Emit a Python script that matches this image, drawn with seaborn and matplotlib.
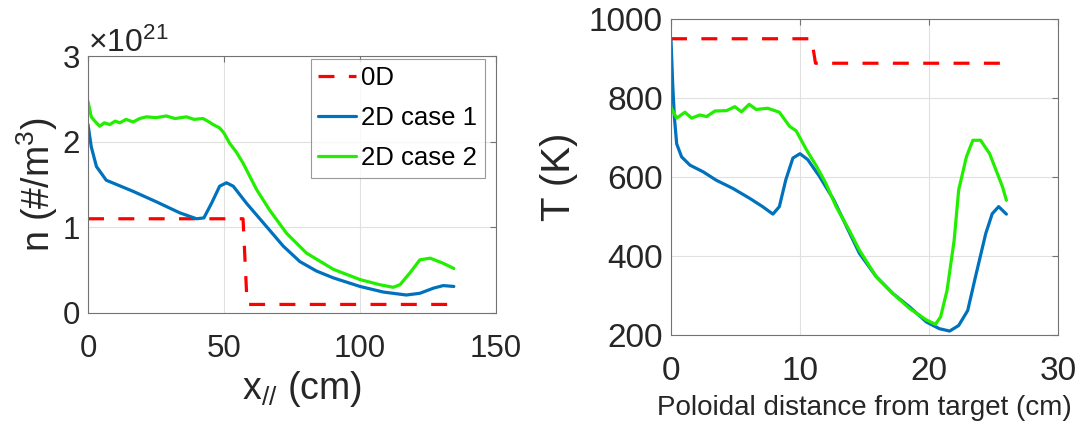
import numpy as np
import pandas as pd
import seaborn as sns
import matplotlib
matplotlib.use("Agg")
import matplotlib.pyplot as plt
from matplotlib.ticker import ScalarFormatter

# ---------------- data: left panel (density vs x_//) ----------------
n0d_x = [0, 57, 58.5, 134.5]
n0d_y = [1.1e21, 1.1e21, 0.1e21, 0.1e21]

n1_x = [0, 1.2, 3.1, 6.7, 16.6, 25, 33.7, 39.9, 42.6, 45.4, 48.4, 50.9, 53.4,
        58.3, 65.6, 71.8, 77.9, 84, 90.2, 100, 108.5, 117, 122, 127, 130.6, 134.5]
n1_y = [2.20, 1.94, 1.71, 1.55, 1.42, 1.30, 1.17, 1.10, 1.11, 1.28, 1.48, 1.52, 1.48,
        1.28, 1.01, 0.78, 0.60, 0.49, 0.41, 0.31, 0.245, 0.21, 0.23, 0.29, 0.32, 0.31]

n2_x = [0, 1.2, 2.5, 4.3, 6, 8, 10, 11.7, 14, 16.6, 19, 21.5, 25, 28.8, 32, 36.2,
        39, 42.3, 44, 46, 48.4, 50, 52.1, 54.5, 57, 62, 66.8, 73, 80.3, 90.2, 100,
        107.3, 112.2, 114.7, 118.4, 122, 125.8, 130.6, 134.5]
n2_y = [2.47, 2.29, 2.24, 2.18, 2.22, 2.20, 2.24, 2.22, 2.26, 2.23, 2.27, 2.29, 2.28,
        2.30, 2.27, 2.29, 2.26, 2.27, 2.24, 2.20, 2.16, 2.10, 1.98, 1.88, 1.75, 1.44,
        1.20, 0.93, 0.70, 0.51, 0.39, 0.33, 0.30, 0.33, 0.47, 0.62, 0.64, 0.58, 0.52]

# ---------------- data: right panel (temperature vs poloidal distance) ----------------
t0d_x = [0, 10.9, 11.2, 25.5]
t0d_y = [950, 950, 888, 888]

t1_x = [0, 0.13, 0.26, 0.44, 0.82, 1.47, 2.5, 3.5, 4.8, 6.1, 7.1, 7.9, 8.4, 8.9,
        9.45, 10, 10.6, 11.5, 12.6, 13.6, 14.6, 15.9, 17.2, 18.5, 19.8, 20.8, 21.6,
        22.3, 23, 23.6, 24.4, 24.9, 25.4, 26]
t1_y = [948, 836, 752, 684, 651, 630, 613, 592, 571, 546, 525, 506, 525, 593,
        648, 659, 644, 602, 543, 475, 407, 348, 305, 271, 233, 216, 210,
        224, 262, 347, 457, 507, 525, 506]

t2_x = [0, 0.44, 1.08, 1.6, 2.24, 2.76, 3.4, 4.3, 4.95, 5.46, 6.06, 6.6, 7.5, 8.4,
        9.2, 9.7, 10.5, 11.3, 12, 12.8, 13.8, 14.6, 15.9, 17.2, 18.5, 19.8, 20.5,
        20.9, 21.4, 21.95, 22.3, 22.9, 23.4, 24, 24.7, 25.2, 25.7, 26]
t2_y = [776, 749, 764, 749, 757, 753, 767, 768, 778, 765, 784, 771, 774, 764,
        728, 717, 669, 626, 584, 525, 466, 415, 348, 305, 267, 238, 227,
        246, 313, 440, 567, 651, 693, 693, 659, 617, 575, 541]

legend_labels = ["0D", "2D case 1", "2D case 2"]
RED, BLUE, GREEN = "#ff0000", "#0072bd", "#22ee00"

sns.set_style("white")
plt.rcParams["font.family"] = ["Liberation Sans", "DejaVu Sans"]
plt.rcParams["mathtext.fontset"] = "custom"
plt.rcParams["mathtext.rm"] = "Liberation Sans"
plt.rcParams["mathtext.it"] = "Liberation Sans"

fig = plt.figure(figsize=(10.85, 4.25), dpi=100)
axL = fig.add_axes([88 / 1085, 1 - 313 / 425, 408 / 1085, 257 / 425])
axR = fig.add_axes([671 / 1085, 1 - 335 / 425, 387 / 1085, 316 / 425])

TXT = "#262626"
LW = 2.3
DASH = (5, 4.5)


def df(x, y):
    return pd.DataFrame({"x": x, "y": y})


def style(ax, fs):
    for s in ax.spines.values():
        s.set_color("0.45")
        s.set_linewidth(0.8)
    ax.tick_params(direction="in", length=4, width=0.8, color="0.45",
                   labelsize=fs, labelcolor=TXT, top=True, right=True)
    ax.tick_params(axis="x", pad=15)
    ax.tick_params(axis="y", pad=6)
    ax.grid(True, color="0.88", linewidth=0.8)
    ax.set_axisbelow(True)


# left
sns.lineplot(data=df(n0d_x, n0d_y), x="x", y="y", ax=axL, color=RED, lw=LW,
             label=legend_labels[0], sort=False)
axL.lines[-1].set_dashes(DASH)
sns.lineplot(data=df(n1_x, np.array(n1_y) * 1e21), x="x", y="y", ax=axL,
             color=BLUE, lw=LW, label=legend_labels[1], sort=False)
sns.lineplot(data=df(n2_x, np.array(n2_y) * 1e21), x="x", y="y", ax=axL,
             color=GREEN, lw=LW, label=legend_labels[2], sort=False)
axL.set_xlim(0, 150)
axL.set_ylim(0, 3e21)
axL.set_xticks([0, 50, 100, 150])
axL.set_yticks([0, 1e21, 2e21, 3e21])
fmt = ScalarFormatter(useMathText=True)
fmt.set_powerlimits((0, 0))
axL.yaxis.set_major_formatter(fmt)
style(axL, 22.5)
axL.yaxis.get_offset_text().set_fontsize(23)
axL.yaxis.get_offset_text().set_color(TXT)
axL.set_xlabel(r"x$_{//}$ (cm)", fontsize=27, color=TXT, labelpad=4)
axL.xaxis.label.set_x(0.525)
axL.set_ylabel(r"n (#/m$^3$)", fontsize=27, color=TXT, labelpad=1)
leg = axL.legend(loc="upper right", bbox_to_anchor=(0.972, 0.99), fontsize=18.5,
                 frameon=True, fancybox=False, edgecolor="0.5", handlelength=1.45,
                 handletextpad=0.2, borderpad=0.3, labelspacing=0.62,
                 borderaxespad=0)
leg.get_frame().set_linewidth(0.8)
for t in leg.get_texts():
    t.set_color("black")
leg.get_lines()[0].set_dashes(DASH)

# right
sns.lineplot(data=df(t0d_x, t0d_y), x="x", y="y", ax=axR, color=RED, lw=LW,
             sort=False)
axR.lines[-1].set_dashes(DASH)
sns.lineplot(data=df(t1_x, t1_y), x="x", y="y", ax=axR, color=BLUE, lw=LW,
             sort=False)
sns.lineplot(data=df(t2_x, t2_y), x="x", y="y", ax=axR, color=GREEN, lw=LW,
             sort=False)
axR.set_xlim(0, 30)
axR.set_ylim(200, 1000)
axR.set_xticks([0, 10, 20, 30])
axR.set_yticks([200, 400, 600, 800, 1000])
style(axR, 24)
axR.set_xlabel("Poloidal distance from target (cm)", fontsize=20, color=TXT,
               labelpad=6)
axR.set_ylabel("T (K)", fontsize=29, color=TXT, labelpad=8)
if axR.get_legend() is not None:
    axR.get_legend().remove()

fig.savefig("out.png", dpi=100)
